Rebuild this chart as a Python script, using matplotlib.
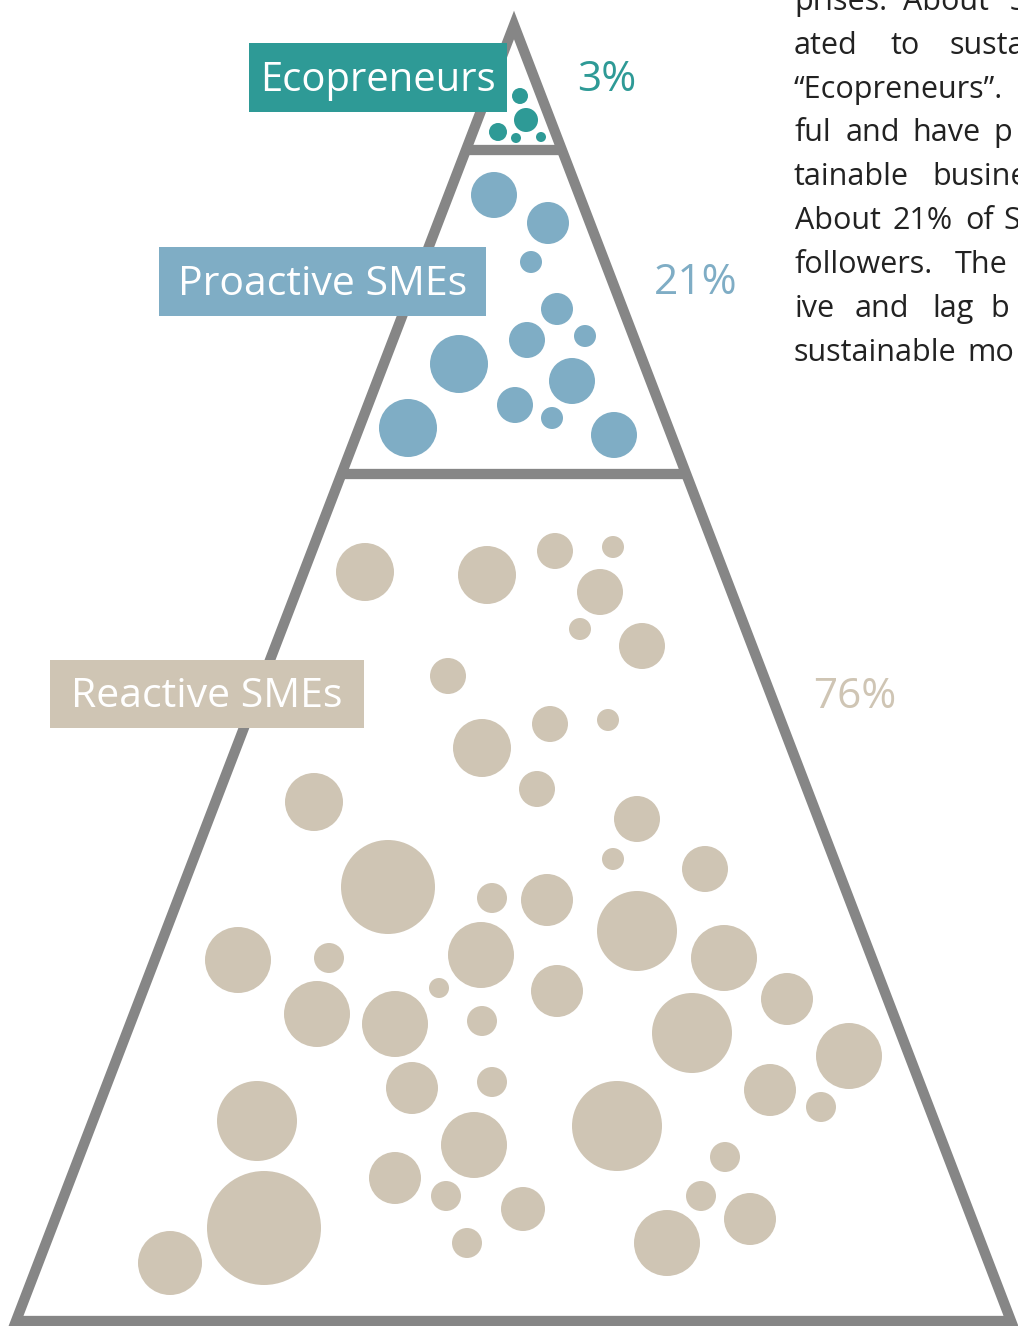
import matplotlib.pyplot as plt
from matplotlib.patches import Circle, Rectangle, Polygon

plt.rcParams['font.family'] = ['Open Sans', 'DejaVu Sans']

# groups of the pyramid (top to bottom)
groups = ['Ecopreneurs', 'Proactive SMEs', 'Reactive SMEs']
shares = ['3%', '21%', '76%']
colors = ['#2e9a96', '#7fadc5', '#cfc5b4']

# bubbles per group (pixel coords of the picture)
eco_x = [520, 526, 498, 516, 541]
eco_y = [96, 120, 132, 138, 137]
eco_r = [8, 12, 9, 5, 5]

pro_x = [494, 548, 531, 557, 585, 527, 459, 572, 515, 552, 408, 614]
pro_y = [195, 223, 262, 309, 336, 340, 364, 381, 405, 418, 428, 435]
pro_r = [23, 21, 11, 16, 11, 18, 29, 23, 18, 11, 29, 23]

rea_x = [365, 487, 555, 613, 600, 580, 642, 448, 550, 608, 482, 537, 314, 637, 613,
         705, 388, 492, 547, 637, 238, 329, 481, 724, 439, 557, 317, 395, 482, 692,
         787, 849, 412, 492, 770, 821, 257, 474, 617, 725, 395, 446, 701, 523, 750,
         264, 467, 667, 170]
rea_y = [572, 575, 551, 547, 592, 629, 646, 676, 724, 720, 748, 789, 802, 819, 859,
         869, 887, 898, 900, 931, 960, 958, 955, 958, 988, 991, 1014, 1024, 1021, 1033,
         999, 1056, 1088, 1082, 1090, 1107, 1121, 1145, 1126, 1157, 1178, 1196, 1196, 1209, 1219,
         1228, 1243, 1243, 1263]
rea_r = [29, 29, 18, 11, 23, 11, 23, 18, 18, 11, 29, 18, 29, 23, 11,
         23, 47, 15, 26, 40, 33, 15, 33, 33, 10, 26, 33, 33, 15, 40,
         26, 33, 26, 15, 26, 15, 40, 33, 45, 15, 26, 15, 15, 22, 26,
         57, 15, 33, 32]

bubbles = [(eco_x, eco_y, eco_r), (pro_x, pro_y, pro_r), (rea_x, rea_y, rea_r)]

# text on the right (justified), cut off by the page edge
side_lines = [
    ['prises.', 'About', '3'],
    ['ated', 'to', 'susta'],
    ['\u201cEcopreneurs\u201d.'],
    ['ful', 'and', 'have', 'p'],
    ['tainable', 'busine'],
    ['About', '21%', 'of', 'S'],
    ['followers.', 'The'],
    ['ive', 'and', 'lag', 'b'],
    ['sustainable', 'mo'],
]
side_word_x = [
    [794, 903, 1010],
    [794, 891, 950],
    [794],
    [795, 846, 912, 993],
    [794, 932],
    [795, 893, 965, 1003],
    [795, 955],
    [795, 855, 932, 990],
    [794, 967],
]

fig = plt.figure(figsize=(10.18, 13.26), dpi=100)
ax = fig.add_axes([0, 0, 1, 1])
ax.set_xlim(0, 1018)
ax.set_ylim(1326, 0)
ax.axis('off')

# pyramid outline
apex = (514, 25)
left = (16, 1321)
right = (1011, 1321)
gray = '#868686'
ax.add_patch(Polygon([apex, left, right], closed=True, fill=False, edgecolor=gray,
                     linewidth=7.4, joinstyle='miter', zorder=2))


def edge_x(y):
    t = (y - apex[1]) / (left[1] - apex[1])
    return apex[0] + t * (left[0] - apex[0]), apex[0] + t * (right[0] - apex[0])


for yd in [150, 474]:
    xl, xr = edge_x(yd)
    ax.plot([xl, xr], [yd, yd], color=gray, linewidth=7.4, solid_capstyle='butt', zorder=2)

# bubbles
for (bx, by, br), c in zip(bubbles, colors):
    for x, y, r in zip(bx, by, br):
        ax.add_patch(Circle((x, y), r, facecolor=c, edgecolor='none', zorder=3))

# label boxes
boxes = [(249, 43, 258, 69), (159, 247, 327, 69), (50, 660, 314, 68)]
label_size = [28.8, 29.5, 29.5]
pct_pos = [(607, 80), (696, 283), (855, 697)]
for name, pct, c, (bx0, by0, bw, bh), (px, py), fs in zip(groups, shares, colors, boxes,
                                                         pct_pos, label_size):
    ax.add_patch(Rectangle((bx0, by0), bw, bh, facecolor=c, edgecolor='none', zorder=4))
    ax.text(bx0 + bw / 2, by0 + bh / 2 + 3, name, color='white', fontsize=fs,
            ha='center', va='center', zorder=5)
    ax.text(px, py, pct, color=c, fontsize=30.5, ha='center', va='center', zorder=5)

# side text
line_y = [2, 46, 90, 133, 177, 221, 265, 309, 353]
for words, xs, y in zip(side_lines, side_word_x, line_y):
    for w, x in zip(words, xs):
        ax.text(x, y, w, color='#222222', fontsize=22, ha='left', va='center', clip_on=False)

fig.savefig('out.png', dpi=100)
